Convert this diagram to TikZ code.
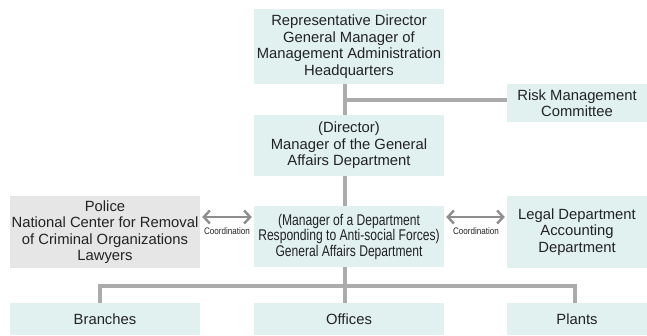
\documentclass[tikz,border=0pt]{standalone}
\usepackage{fontspec}
\setmainfont{Liberation Sans}
\newfontfamily\narrowfont[FakeStretch=0.78]{Liberation Sans}
\newfontfamily\tinyfont[FakeStretch=0.85]{Liberation Sans}
\usetikzlibrary{arrows.meta,calc}
\definecolor{cyanbg}{HTML}{E1F1F0}
\definecolor{graybg}{HTML}{E6E6E6}
\definecolor{linegray}{HTML}{ABABAB}
\definecolor{arrowgray}{HTML}{8E8E8E}
\definecolor{txt}{HTML}{222222}
\tikzset{
  box/.style={fill=cyanbg, inner sep=0pt, align=center, text=txt,
    font=\fontsize{14.8}{16.5}\selectfont},
  graybox/.style={box, fill=graybg},
  conn/.style={draw=linegray, line width=3.5pt},
  coord/.style={draw=arrowgray, line width=2.8pt,
    {Straight Barb[length=6pt,width=13pt,line width=2.4pt]}-{Straight Barb[length=6pt,width=13pt,line width=2.4pt]}},
  coordlbl/.style={text=txt, inner sep=0pt, font=\tinyfont\fontsize{9.5}{10}\selectfont}
}
\begin{document}
\begin{tikzpicture}[x=1pt,y=-1pt]
\useasboundingbox (0,0) rectangle (647,335);
\node[box, minimum width=190pt, minimum height=75pt] (top) at (349,46.5)
  {Representative Director\\General Manager of\\Management Administration\\Headquarters};
\node[box, minimum width=140pt, minimum height=38pt] (risk) at (577,103)
  {Risk Management\\Committee};
\node[box, minimum width=190pt, minimum height=61pt] (dir) at (349,145.5)
  {(Director)\\Manager of the General\\Affairs Department};
\node[box, minimum width=190pt, minimum height=61pt,
  font=\narrowfont\fontsize{15.5}{15.5}\selectfont] (mid) at (349,236.5)
  {(Manager of a Department\\Responding to Anti-social Forces)\\General Affairs Department};
\node[graybox, minimum width=190pt, minimum height=72pt] (police) at (105,232)
  {Police\\National Center for Removal\\of Criminal Organizations\\Lawyers};
\node[box, minimum width=140pt, minimum height=72pt] (legal) at (577,232)
  {Legal Department\\Accounting\\Department};
\node[box, minimum width=190pt, minimum height=32pt] (branches) at (105,319) {Branches};
\node[box, minimum width=190pt, minimum height=32pt] (offices) at (349,319) {Offices};
\node[box, minimum width=140pt, minimum height=32pt] (plants) at (577,319) {Plants};
% vertical trunk
\coordinate (j1) at (345,100);
\coordinate (j2) at (345,286);
\draw[conn] ([xshift=-4pt]top.south) -- ([xshift=-4pt]dir.north);
\draw[conn] (j1) -- (j1 -| risk.west);
\draw[conn] ([xshift=-4pt]dir.south) -- ([xshift=-4pt]mid.north);
\draw[conn] ([xshift=-4pt]mid.south) -- (j2);
\draw[conn] ([xshift=-5pt]branches.north) |- (j2) -| ([xshift=-2pt]plants.north);
\draw[conn] (j2) -- ([xshift=-4pt]offices.north);
% coordination arrows
\draw[coord] ([xshift=2pt,yshift=15pt]police.east) -- ([xshift=-2pt,yshift=15pt]police.east -| mid.west);
\draw[coord] ([xshift=2pt,yshift=15pt]mid.east |- legal.west) -- ([xshift=-2pt,yshift=15pt]legal.west);
\node[coordlbl] (c1) at (227,231) {Coordination};
\node[coordlbl] (c2) at (476,231) {Coordination};
\end{tikzpicture}
\end{document}
